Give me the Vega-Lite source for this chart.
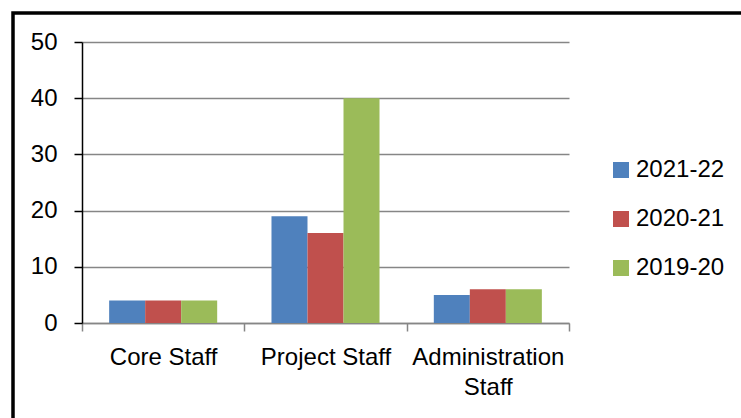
{
  "$schema": "https://vega.github.io/schema/vega-lite/v6.json",
  "width": 733,
  "height": 410,
  "padding": {"left": 13, "top": 13, "right": 0, "bottom": 0},
  "background": "white",
  "data": {
    "values": [
      {"category": "Core Staff", "year": "2021-22", "value": 4},
      {"category": "Core Staff", "year": "2020-21", "value": 4},
      {"category": "Core Staff", "year": "2019-20", "value": 4},
      {"category": "Project Staff", "year": "2021-22", "value": 19},
      {"category": "Project Staff", "year": "2020-21", "value": 16},
      {"category": "Project Staff", "year": "2019-20", "value": 40},
      {"category": "Administration Staff", "year": "2021-22", "value": 5},
      {"category": "Administration Staff", "year": "2020-21", "value": 6},
      {"category": "Administration Staff", "year": "2019-20", "value": 6}
    ]
  },
  "mark": {"type": "bar"},
  "encoding": {
    "x": {
      "field": "category",
      "type": "nominal",
      "sort": ["Core Staff", "Project Staff", "Administration Staff"],
      "scale": {"range": [69, 556], "paddingInner": 0, "paddingOuter": 0},
      "axis": {
        "title": null,
        "labelAngle": 0,
        "offset": -100,
        "tickBand": "extent",
        "domainColor": "#868686",
        "domainWidth": 1.5,
        "tickColor": "#868686",
        "tickWidth": 1.5,
        "tickSize": 8,
        "labelPadding": 14,
        "labelFont": "Liberation Sans",
        "labelFontSize": 24,
        "labelColor": "black",
        "labelLineHeight": 30,
        "labelOverlap": false,
        "labelLimit": 0,
        "grid": false,
        "labelExpr": "datum.label == 'Administration Staff' ? ['Administration', 'Staff'] : datum.label"
      }
    },
    "xOffset": {
      "field": "year",
      "type": "nominal",
      "sort": ["2021-22", "2020-21", "2019-20"],
      "scale": {"paddingInner": 0, "paddingOuter": 0.754}
    },
    "y": {
      "field": "value",
      "type": "quantitative",
      "scale": {"domain": [0, 50], "range": [310, 29], "nice": false},
      "axis": {
        "title": null,
        "values": [0, 10, 20, 30, 40, 50],
        "offset": -69,
        "domainColor": "black",
        "domainWidth": 1.5,
        "tickColor": "black",
        "tickWidth": 1.5,
        "tickSize": 8,
        "labelPadding": 17,
        "labelFont": "Liberation Sans",
        "labelFontSize": 24,
        "labelColor": "black",
        "grid": true,
        "gridColor": "#868686",
        "gridWidth": 1.5
      }
    },
    "color": {
      "field": "year",
      "type": "nominal",
      "scale": {
        "domain": ["2021-22", "2020-21", "2019-20"],
        "range": ["#4F81BD", "#C0504D", "#9BBB59"]
      },
      "legend": {
        "title": null,
        "orient": "none",
        "legendX": 596,
        "legendY": 145,
        "padding": 0,
        "symbolType": "square",
        "symbolSize": 256,
        "symbolStrokeWidth": 0,
        "symbolOpacity": 1,
        "labelFont": "Liberation Sans",
        "labelFontSize": 24,
        "labelColor": "black",
        "labelOffset": 3,
        "rowPadding": 25
      }
    }
  },
  "config": {
    "view": {"stroke": "black", "strokeWidth": 3.5, "fill": "white"}
  }
}
